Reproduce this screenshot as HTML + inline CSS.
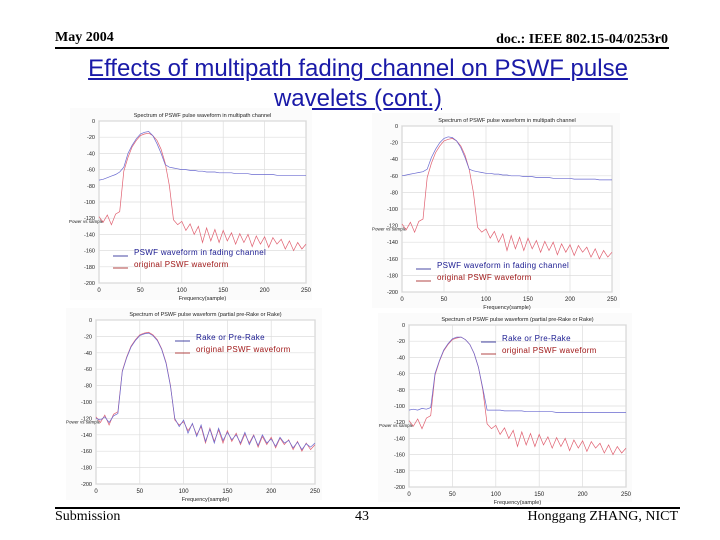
<!DOCTYPE html>
<html><head><meta charset="utf-8"><style>
body{margin:0;background:#fff;}
#slide{position:relative;width:720px;height:540px;overflow:hidden;background:#fff;}
.t{position:absolute;font-family:"Liberation Serif",serif;color:#000;}
</style></head><body>
<div id="slide">
<div class="t" style="left:55px;top:30px;font-size:14px;font-weight:bold;">May 2004</div>
<div class="t" style="right:52px;top:32px;font-size:14px;font-weight:bold;">doc.: IEEE 802.15-04/0253r0</div>
<div style="position:absolute;left:55px;top:47px;width:614px;height:2px;background:#000;"></div>
<div style="position:absolute;left:40px;width:636px;top:54px;text-align:center;font-family:'Liberation Sans',sans-serif;font-size:24px;line-height:30px;color:#1a1aa8;text-decoration:underline;">Effects of multipath fading channel on PSWF pulse<br>wavelets (cont.)</div>
<svg id="charts" width="720" height="540" style="position:absolute;left:0;top:0"></svg>
<div style="position:absolute;left:55px;top:507px;width:625px;height:2px;background:#000;"></div>
<div class="t" style="left:55px;top:509px;font-size:14px;">Submission</div>
<div class="t" style="left:355px;top:509px;font-size:14px;">43</div>
<div class="t" style="right:42px;top:509px;font-size:14px;">Honggang ZHANG, NICT</div>
</div>
<script>
const freqs=[0,5,10,15,20,25,30,35,40,45,50,55,60,65,70,75,80,85,90,95,100,105,110,115,120,125,130,135,140,145,150,155,160,165,170,175,180,185,190,195,200,205,210,215,220,225,230,235,240,245,250];
const originalDb=[-118,-125,-116,-128,-115,-112,-62,-45,-32,-24,-18,-16,-15,-18,-24,-35,-52,-80,-122,-128,-124,-135,-127,-140,-130,-150,-132,-148,-134,-150,-135,-148,-138,-152,-139,-150,-140,-155,-142,-152,-143,-156,-144,-152,-146,-158,-148,-160,-150,-158,-152];
const fading1Db=[-73,-72,-70,-68,-66,-63,-57,-40,-30,-22,-16,-14,-13,-18,-28,-40,-54,-57,-58,-59,-60,-60,-61,-61,-62,-62,-63,-63,-63,-64,-64,-64,-64,-65,-65,-65,-65,-66,-66,-66,-66,-66,-66,-67,-67,-67,-67,-67,-67,-67,-67];
const fading2Db=[-60,-59,-58,-57,-56,-55,-52,-38,-28,-20,-15,-13,-14,-18,-26,-38,-52,-54,-55,-56,-57,-57,-58,-58,-59,-59,-60,-60,-60,-61,-61,-61,-62,-62,-62,-62,-63,-63,-63,-63,-63,-64,-64,-64,-64,-64,-64,-65,-65,-65,-65];
const rake3Db=[-120,-122,-118,-125,-117,-114,-63,-46,-33,-25,-19,-17,-16,-19,-25,-36,-53,-81,-120,-130,-122,-138,-126,-142,-128,-148,-133,-150,-132,-147,-137,-146,-140,-150,-137,-152,-141,-153,-140,-150,-145,-154,-143,-150,-147,-156,-149,-158,-151,-155,-150];
const rake4Db=[-105,-104,-105,-103,-104,-102,-60,-44,-31,-23,-17,-15,-15,-18,-24,-35,-52,-78,-105,-105,-105,-105,-106,-106,-106,-106,-106,-107,-107,-107,-107,-107,-107,-107,-108,-108,-108,-108,-108,-108,-108,-108,-108,-108,-108,-108,-108,-108,-108,-108,-108];
const xTicks=[0,50,100,150,200,250];
const yTicks=[0,-20,-40,-60,-80,-100,-120,-140,-160,-180,-200];
const yTickLabels=["0","-20","-40","-60","-80","-100","-120","-140","-160","-180","-200"];

const NS="http://www.w3.org/2000/svg";
const svg=document.getElementById('charts');
function mk(tag,attrs,parent){const e=document.createElementNS(NS,tag);for(const k in attrs)e.setAttribute(k,attrs[k]);(parent||svg).appendChild(e);return e;}

const charts=[
 {x0:99,x1:306,y0:121,y1:283,title:"Spectrum of PSWF pulse waveform in multipath channel",blue:fading1Db,legend:["PSWF waveform in fading channel","original PSWF waveform"],lx:113,ly:255,bg:[70,108,312,300]},
 {x0:402,x1:612,y0:126,y1:292,title:"Spectrum of PSWF pulse waveform in multipath channel",blue:fading2Db,legend:["PSWF waveform in fading channel","original PSWF waveform"],lx:416,ly:268,bg:[372,113,620,308]},
 {x0:96,x1:315,y0:320,y1:484,title:"Spectrum of PSWF pulse waveform (partial pre-Rake or Rake)",blue:rake3Db,legend:["Rake or Pre-Rake","original PSWF waveform"],lx:175,ly:340,bg:[66,308,322,500]},
 {x0:409,x1:626,y0:325,y1:487,title:"Spectrum of PSWF pulse waveform (partial pre-Rake or Rake)",blue:rake4Db,legend:["Rake or Pre-Rake","original PSWF waveform"],lx:481,ly:341,bg:[378,313,632,502]}
];

charts.forEach((c,i)=>{
  const g=mk('g',{});
  
  
  const xs=f=>c.x0+(f/250)*(c.x1-c.x0);
  const ys=v=>c.y0+(-v/200)*(c.y1-c.y0);
  const bg=mk('rect',{x:c.bg[0],y:c.bg[1],width:c.bg[2]-c.bg[0],height:c.bg[3]-c.bg[1],fill:'#fbfbfb'},g);
  
  
  const pa=mk('rect',{x:c.x0,y:c.y0,width:c.x1-c.x0,height:c.y1-c.y0,fill:'#fff',stroke:'#999','stroke-width':0.8},g);
  
  
  xTicks.forEach(t=>{
    const l=mk('line',{x1:xs(t),x2:xs(t),y1:c.y0,y2:c.y1,stroke:'#ddd','stroke-width':0.7},g);
    
    
    const tx=mk('text',{x:xs(t),y:c.y1+9,'font-size':6,'text-anchor':'middle','font-family':'Liberation Sans,sans-serif',fill:'#222'},g);
    tx.textContent=t;
    
    
  });
  yTicks.forEach((t,k)=>{
    const l=mk('line',{x1:c.x0,x2:c.x1,y1:ys(t),y2:ys(t),stroke:'#ddd','stroke-width':0.7},g);
    
    
    const tx=mk('text',{x:c.x0-4,y:ys(t)+2,'font-size':5.5,'text-anchor':'end','font-family':'Liberation Sans,sans-serif',fill:'#222'},g);
    tx.textContent=yTickLabels[k];
    
    
  });
  const ti=mk('text',{x:(c.x0+c.x1)/2,y:c.y0-4,'font-size':5.5,'text-anchor':'middle','font-family':'Liberation Sans,sans-serif',fill:'#222'},g);
  ti.textContent=c.title;
  
  
  const xl=mk('text',{x:(c.x0+c.x1)/2,y:c.y1+17,'font-size':5.5,'text-anchor':'middle','font-family':'Liberation Sans,sans-serif',fill:'#222'},g);
  xl.textContent="Frequency(sample)";
  
  
  const yl=mk('text',{x:c.x0-30,y:ys(-120)+5,'font-size':4.5,'font-family':'Liberation Sans,sans-serif',fill:'#222'},g);
  yl.textContent="Power vs sample";
  
  
  const pts=a=>a.map((v,k)=>xs(freqs[k]).toFixed(1)+','+ys(v).toFixed(1)).join(' ');
  const red=mk('polyline',{points:pts(originalDb),fill:'none',stroke:'#e06070','stroke-width':0.7},g);
  
  
  const blue=mk('polyline',{points:pts(c.blue),fill:'none',stroke:'#6a6ad0','stroke-width':0.7},g);
  
  
  [['#1a1a90',c.legend[0]],['#a01818',c.legend[1]]].forEach((e,k)=>{
    const y=c.ly+k*12;
    const ln=mk('line',{x1:c.lx,x2:c.lx+15,y1:y+1,y2:y+1,stroke:e[0],'stroke-width':0.8},g);
    
    
    const tx=mk('text',{x:c.lx+21,y:y,'font-size':8,'font-family':'Liberation Sans,sans-serif',fill:e[0],'letter-spacing':'0.3'},g);
    tx.textContent=e[1];
    
    
  });
});
</script>
</body></html>
